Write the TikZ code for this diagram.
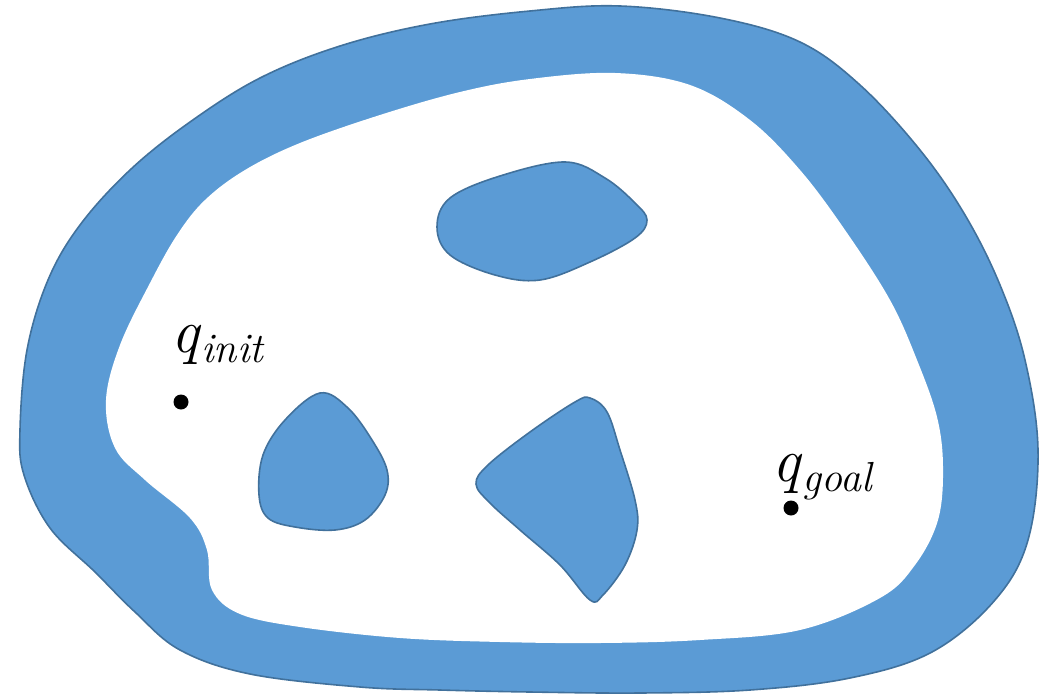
\documentclass[tikz,border=0pt]{standalone}
\usepackage{fontspec}
\definecolor{obfill}{HTML}{5B9BD5}
\definecolor{obline}{HTML}{41719C}
\newcommand{\qsub}[1]{\textit{q}\raisebox{-10pt}{\fontsize{42}{44}\selectfont\textit{#1}}}
\tikzset{
  region/.style={fill=obfill, draw=obline, line width=1.6pt, line join=round},
  freespace/.style={fill=white},
  qdot/.style={circle, fill=black, inner sep=0pt, minimum size=15pt},
  qlabel/.style={inner sep=0pt, anchor=base west, font=\fontsize{62}{70}\selectfont}
}
\begin{document}
\begin{tikzpicture}[x=1pt, y=-1pt]
\useasboundingbox (0,0) rectangle (1064,695);
% outer wall
\draw[region] plot[smooth cycle, tension=0.6] coordinates {
 (20,430) (27,350) (48,280) (80,225) (130,170) (190,122) (260,78) (340,46)
 (430,24) (530,11) (620,6) (720,18) (800,42) (860,85) (920,150) (965,215)
 (1000,285) (1025,360) (1038,450) (1028,540) (995,600) (932,652) (850,678)
 (750,690) (640,693) (530,692) (440,690) (360,687) (250,674) (180,650)
 (135,612) (95,572) (50,528) (24,475)};
% free space
\fill[freespace] plot[smooth cycle, tension=0.6] coordinates {
 (106,400) (120,345) (150,283) (177,235) (205,200) (245,170) (300,143)
 (380,115) (460,92) (530,79) (615,73) (690,85) (750,120) (800,170)
 (845,230) (890,300) (917,360) (937,417) (943,467) (938,520) (915,565)
 (880,598) (800,630) (700,640) (600,643) (500,642) (400,638) (300,627)
 (240,614) (212,590) (207,550) (190,518) (145,480) (115,448)};
% top obstacle
\draw[region] plot[smooth cycle, tension=0.6] coordinates {
 (437,227) (450,198) (500,176) (565,162) (605,178) (635,203) (647,220)
 (635,238) (590,262) (540,280) (495,275) (450,255)};
% left obstacle
\draw[region] plot[smooth cycle, tension=0.6] coordinates {
 (320,393) (348,408) (372,440) (387,470) (385,495) (365,520) (335,530)
 (295,527) (268,518) (259,495) (263,455) (285,420)};
% centre obstacle
\draw[region] plot[smooth cycle, tension=0.6] coordinates {
 (590,398) (607,412) (620,450) (635,500) (637,530) (625,565) (603,595)
 (590,600) (560,565) (520,530) (490,503) (476,484) (488,465) (530,432)
 (575,402)};
% configurations
\node[qdot] (dinit) at (181,402) {};
\node[qdot] (dgoal) at (791,508) {};
\node[qlabel] (linit) at (171,352) {\qsub{init}};
\node[qlabel] (lgoal) at (772,481) {\qsub{goal}};
\end{tikzpicture}
\end{document}
